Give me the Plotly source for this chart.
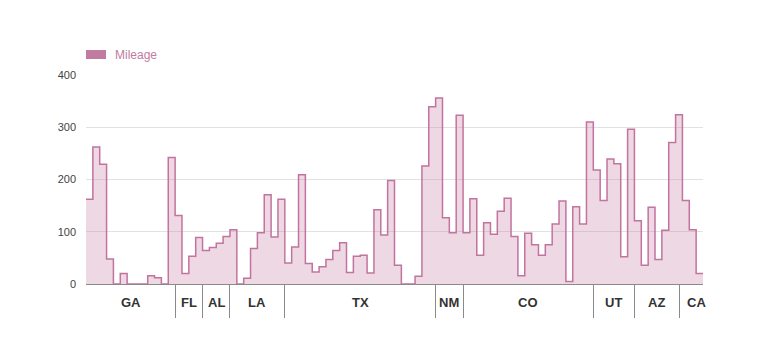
import plotly.graph_objects as go

mileage = [162, 262, 229, 48, 0, 20, 0, 0, 0, 16, 12, 0, 242,
           131, 20, 53, 89,
           64, 70, 78, 91,
           104, 0, 11, 68, 98, 171, 90, 162,
           40, 71, 209, 39, 23, 33, 47, 64, 79, 22, 53, 55, 21, 142, 94, 198, 36, 0, 0, 15, 226, 339,
           356, 127, 98, 323,
           98, 163, 55, 117, 95, 139, 164, 91, 16, 97, 75, 55, 75, 115, 159, 5, 148, 115, 310,
           218, 160, 239, 230, 52, 296,
           121, 36, 147, 47, 103, 271, 324, 160, 104, 20]

states = ["GA", "FL", "AL", "LA", "TX", "NM", "CO", "UT", "AZ", "CA"]
state_bounds = [0, 13, 17, 21, 29, 51, 55, 74, 80, 86.5, 90]
y_ticks = [0, 100, 200, 300, 400]

line_col = "#c2739f"
n = len(mileage)
xs = list(range(n)) + [n]
ys = mileage + [mileage[-1]]

fig = go.Figure()
fig.add_trace(go.Scatter(
    x=xs, y=ys, mode="lines", line=dict(shape="hv", color=line_col, width=1.5),
    fill="tozeroy", fillcolor="rgba(194,115,159,0.28)", name="Mileage",
    showlegend=False, hoverinfo="skip"))

inner = state_bounds[1:-1]
fig.update_xaxes(
    range=[0, n], tickmode="array", tickvals=inner, ticktext=[""] * len(inner),
    ticks="outside", ticklen=33, tickwidth=1, tickcolor="#8a8a8a",
    showgrid=False, zeroline=False, showline=True, linecolor="#8a8a8a", linewidth=1,
    fixedrange=True)
fig.update_yaxes(
    range=[0, 400], tickvals=y_ticks, showgrid=True, gridcolor="#e2e2e2", gridwidth=1,
    zeroline=False, showline=False, ticks="", ticklabelstandoff=9,
    tickfont=dict(family="Liberation Sans, Arial", size=11, color="#444444"),
    fixedrange=True)

for i, s in enumerate(states):
    cx = (state_bounds[i] + state_bounds[i + 1]) / 2
    fig.add_annotation(x=cx, y=0, xref="x", yref="paper", text="<b>" + s + "</b>",
                       showarrow=False, yshift=-18.5, yanchor="middle", xanchor="center",
                       xshift=5 if i == len(states) - 1 else 0,
                       font=dict(family="Liberation Sans, Arial", size=13, color="#333333"))

# legend
fig.add_shape(type="rect", xref="paper", yref="paper", x0=0, x1=20 / 617,
              y0=1 + 16 / 209.3, y1=1 + 25 / 209.3, fillcolor="#c27ba0", line=dict(width=0))
fig.add_annotation(x=29 / 617, y=1 + 20.5 / 209.3, xref="paper", yref="paper", text="Mileage",
                   showarrow=False, xanchor="left", yanchor="middle", xshift=-2,
                   font=dict(family="Liberation Sans, Arial", size=12, color="#c27ba0"))

fig.update_layout(
    width=760, height=353, margin=dict(l=78, r=65, t=67, b=77),
    paper_bgcolor="white", plot_bgcolor="white", showlegend=False)

fig.write_html("out.html")
